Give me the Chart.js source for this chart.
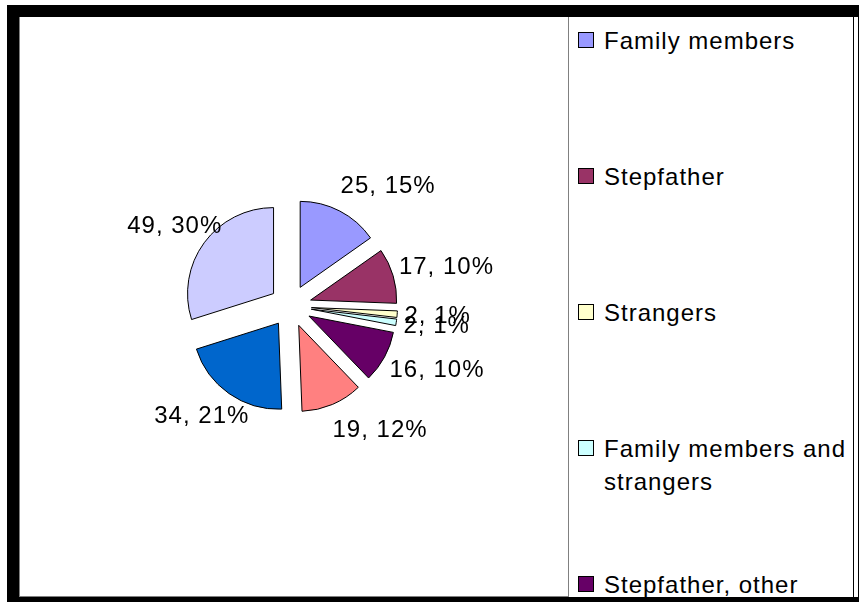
<!DOCTYPE html>
<html>
<head>
<meta charset="utf-8">
<script src="https://cdn.jsdelivr.net/npm/chart.js@4.4.1/dist/chart.umd.min.js"></script>
<style>
  body { margin: 0; width: 860px; height: 602px; overflow: hidden; background: #fff; position: relative;
         font-family: "Liberation Sans", Arial, sans-serif; }
  .frame { position: absolute; left: 7px; top: 5px; width: 852px; height: 600px; box-sizing: border-box;
           border-top: 12px solid #000; border-left: 12px solid #000; border-right: 1px solid #000; }
  .bottom { position: absolute; left: 7px; top: 597px; width: 852px; height: 8px; background: #000; }
  .plot { position: absolute; left: 19px; top: 17px; width: 550px; height: 580px; box-sizing: border-box;
          border-left: 1px solid #808080; border-bottom: 1px solid #808080; }
  #wrap { position: absolute; left: 19px; top: 17px; width: 543px; height: 578px; }
  .legend { position: absolute; left: 568px; top: 17px; width: 286px; height: 580px; box-sizing: border-box;
            border-left: 1px solid #808080; border-right: 1px solid #000; overflow: hidden; }
  .item { position: absolute; left: 9px; width: 270px; }
  .item .box { position: absolute; left: 0; top: 8px; width: 16px; height: 16px; box-sizing: border-box; border: 1px solid #000; }
  .item .txt { margin-left: 26px; width: 246px; font-size: 24px; line-height: 33px; letter-spacing: 1px; color: #000; }
</style>
</head>
<body>
<div class="frame"></div>
<div class="plot"></div>
<div id="wrap"><canvas id="pie"></canvas></div>
<div class="legend" id="legend"></div>
<div class="bottom"></div>
<script>
// categories (last three are cut off in the original legend)
const categories = ['Family members', 'Stepfather', 'Strangers', 'Family members and strangers',
                    'Stepfather, other', 'Category 6', 'Category 7', 'Category 8'];
const counts = [25, 17, 2, 2, 16, 19, 34, 49];
const colors = ['#9999FF', '#993366', '#FFFFCC', '#CCFFFF', '#660066', '#FF8080', '#0066CC', '#CCCCFF'];

const explodeGap = 21;
const labelGap = 10;

// legend, Excel style: one entry per slot
const legend = document.getElementById('legend');
categories.forEach((name, i) => {
  const el = document.createElement('div');
  el.className = 'item';
  el.style.top = (6.5 + i * 136) + 'px';
  el.innerHTML = '<div class="box" style="background:' + colors[i] + '"></div><div class="txt">' + name + '</div>';
  legend.appendChild(el);
});

// pull every slice out from the centre
const explode = {
  id: 'explode',
  afterDatasetUpdate(chart, args) {
    args.meta.data.forEach(arc => {
      const mid = (arc.startAngle + arc.endAngle) / 2;
      arc.x += Math.cos(mid) * explodeGap;
      arc.y += Math.sin(mid) * explodeGap;
    });
  }
};

// "value, percent" labels outside each slice
const sliceLabels = {
  id: 'sliceLabels',
  afterDatasetsDraw(chart) {
    const ctx = chart.ctx;
    const meta = chart.getDatasetMeta(0);
    const total = counts.reduce((a, b) => a + b, 0);
    ctx.save();
    ctx.font = '24px "Liberation Sans", Arial, sans-serif';
    ctx.letterSpacing = '1px';
    ctx.fillStyle = '#000';
    ctx.textAlign = 'center';
    ctx.textBaseline = 'middle';
    meta.data.forEach((arc, i) => {
      const mid = (arc.startAngle + arc.endAngle) / 2;
      const cos = Math.cos(mid), sin = Math.sin(mid);
      const text = counts[i] + ', ' + Math.round(counts[i] / total * 100) + '%';
      const w = ctx.measureText(text).width, h = 24;
      const r = arc.outerRadius + labelGap;
      const px = arc.x + cos * r, py = arc.y + sin * r;
      // right-hand labels start near the anchor, left-hand ones sit roughly over it
      const dx = (cos >= 0 ? 0.92 : -0.45) * w / 2;
      ctx.fillText(text, px + dx, py + sin * h * 0.75);
    });
    ctx.restore();
  }
};

new Chart(document.getElementById('pie'), {
  type: 'pie',
  data: {
    labels: categories,
    datasets: [{
      data: counts,
      backgroundColor: colors,
      borderColor: '#000',
      borderWidth: 1
    }]
  },
  options: {
    responsive: true,
    maintainAspectRatio: false,
    animation: false,
    radius: 86,
    layout: { padding: 0 },
    plugins: {
      legend: { display: false },
      tooltip: { enabled: false }
    }
  },
  plugins: [explode, sliceLabels]
});
</script>
</body>
</html>
